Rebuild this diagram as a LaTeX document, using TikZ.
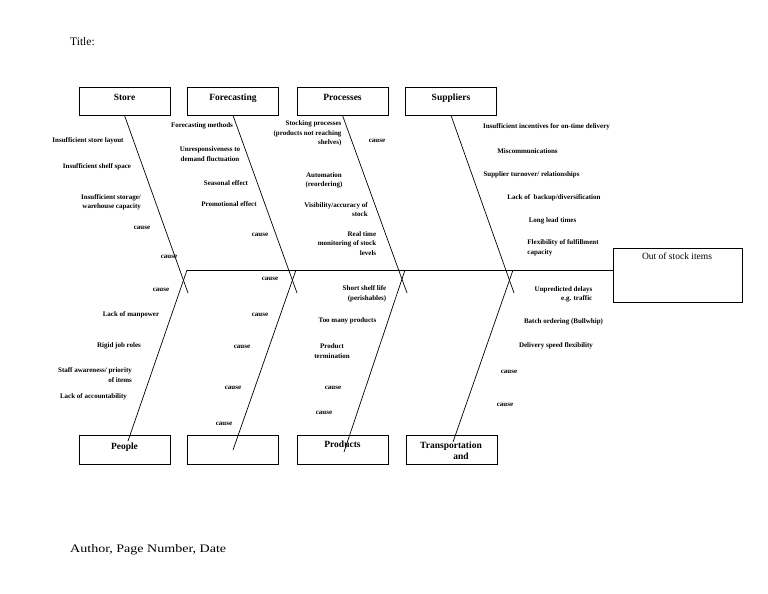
\documentclass[tikz,border=0pt]{standalone}
\usepackage{fontspec}
\setmainfont{Liberation Serif}
\tikzset{
 box/.style={draw, line width=0.8pt, minimum width=91pt, minimum height=28pt, inner sep=0pt},
 boxtext/.style={font=\fontsize{9.5}{11}\selectfont\bfseries, inner sep=0pt, anchor=base},
 lbl/.style={font=\fontsize{7}{9.5}\selectfont\bfseries, inner sep=0pt, align=center},
 lblr/.style={lbl, align=right},
 lbll/.style={lbl, align=left},
 bone/.style={line width=0.7pt},
 plain/.style={inner sep=0pt, anchor=west, font=\fontsize{11.5}{13}\selectfont}
}
\begin{document}
\begin{tikzpicture}[x=1pt,y=-1pt]
\useasboundingbox (0,0) rectangle (768,594);
\fill[white] (0,0) rectangle (768,594);

\node[plain] (title) at (70,42) {Title:};
\node[plain, xscale=1.22] (author) at (70,550) {Author, Page Number, Date};

% top boxes
\node[box] (store) at (124.5,101) {};
\node[boxtext] (storeT) at (124.5,100.5) {Store};
\node[box] (fore) at (233,101) {};
\node[boxtext] (foreT) at (233,100.5) {Forecasting};
\node[box] (proc) at (342.5,101) {};
\node[boxtext] (procT) at (342.5,100.5) {Processes};
\node[box] (supp) at (451,101) {};
\node[boxtext] (suppT) at (451,100.5) {Suppliers};

% bottom boxes
\node[box, minimum height=29pt] (people) at (124.5,449.5) {};
\node[boxtext] (peopleT) at (124.5,449.5) {People};
\node[box, minimum height=29pt] (blank) at (232.5,449.5) {};
\node[box, minimum height=29pt] (prod) at (342.5,449.5) {};
\node[boxtext] (prodT) at (342.5,447.5) {Products};
\node[boxtext] (transT) at (451,448.5) {Transportation};
\node[boxtext] (transT2) at (461,459.5) {and};
\node[box, minimum height=29pt] (trans) at (451.5,449.5) {};

% effect
\node[draw, line width=0.8pt, minimum width=129pt, minimum height=54pt, inner sep=0pt] (effect) at (677.5,275) {};
\node[font=\fontsize{9.5}{11}\selectfont, inner sep=0pt, anchor=base] (effectT) at (677,259) {Out of stock items};

% spine
\coordinate (s1) at (187,270);
\coordinate (s2) at (296,270);
\coordinate (s3) at (405,270);
\coordinate (s4) at (513,270);
\draw[bone] (s1) -- (s1 -| effect.west);

% top bones
\coordinate (t1) at (188,293);
\coordinate (t2) at (297,293);
\coordinate (t3) at (407,293);
\coordinate (t4) at (514,293);
\draw[bone] (store.south) -- (t1);
\draw[bone] (fore.south) -- (t2);
\draw[bone] (proc.south) -- (t3);
\draw[bone] (supp.south) -- (t4);

% bottom bones
\coordinate (b1) at (128,441);
\coordinate (b2) at (233,450);
\coordinate (b3) at (344,452);
\coordinate (b4) at (453,442);
\draw[bone] (b1) -- (s1);
\draw[bone] (b2) -- (s2);
\draw[bone] (b3) -- (s3);
\draw[bone] (b4) -- (s4);

% Store causes
\node[lbl] (st1) at (88,141) {Insufficient store layout};
\node[lbl] (st2) at (97,167) {Insufficient shelf space};
\node[lblr] (st3) at (111,202.5) {Insufficient storage/\\warehouse capacity};
\node[lbl] (st4) at (142,228) {cause};
\node[lbl] (st5) at (169,257) {cause};

% Forecasting causes
\node[lbl] (fo1) at (202,126) {Forecasting methods};
\node[lbl] (fo2) at (210,154) {Unresponsiveness to\\demand fluctuation};
\node[lbl] (fo3) at (226,183) {Seasonal effect};
\node[lbl] (fo4) at (229,204) {Promotional effect};
\node[lbl] (fo5) at (260,235) {cause};

% Processes causes
\node[lblr] (pr1) at (307.5,133.5) {Stocking processes\\(products not reaching\\shelves)};
\node[lbl] (pr2) at (377,141) {cause};
\node[lbl] (pr3) at (324,180.5) {Automation\\(reordering)};
\node[lblr] (pr4) at (336,209.5) {Visibility/accuracy of\\stock};
\node[lblr] (pr5) at (347,243.5) {Real time\\monitoring of stock\\levels};

% Suppliers causes
\node[lbl] (su1) at (546.5,127) {Insufficient incentives for on-time delivery};
\node[lbl] (su2) at (527.5,151) {Miscommunications};
\node[lbl] (su3) at (531.5,175) {Supplier turnover/ relationships};
\node[lbl] (su4) at (554,198) {Lack of \ backup/diversification};
\node[lbl] (su5) at (552.5,221) {Long lead times};
\node[lbll] (su6) at (563,248) {Flexibility of fulfillment\\capacity};

% People causes
\node[lbl] (pe0) at (161,290) {cause};
\node[lbl] (pe1) at (131,315) {Lack of manpower};
\node[lbl] (pe2) at (119,346) {Rigid job roles};
\node[lblr] (pe3) at (95,375) {Staff awareness/ priority\\of items};
\node[lbl] (pe4) at (93.5,397) {Lack of accountability};

% blank box causes
\node[lbl] (bl1) at (270,279) {cause};
\node[lbl] (bl2) at (260,315) {cause};
\node[lbl] (bl3) at (242,347) {cause};
\node[lbl] (bl4) at (233,388) {cause};
\node[lbl] (bl5) at (224,424) {cause};

% Products causes
\node[lblr] (po1) at (364.5,294) {Short shelf life\\(perishables)};
\node[lbl] (po2) at (347.5,321) {Too many products};
\node[lbl] (po3) at (332,351) {Product\\termination};
\node[lbl] (po4) at (333,388) {cause};
\node[lbl] (po5) at (324,413) {cause};

% Transportation causes
\node[lblr] (tr1) at (563.5,294.5) {Unpredicted delays\\e.g. traffic};
\node[lbl] (tr2) at (563.5,322) {Batch ordering (Bullwhip)};
\node[lbl] (tr3) at (556,346) {Delivery speed flexibility};
\node[lbl] (tr4) at (509,372) {cause};
\node[lbl] (tr5) at (505,405) {cause};
\end{tikzpicture}
\end{document}
